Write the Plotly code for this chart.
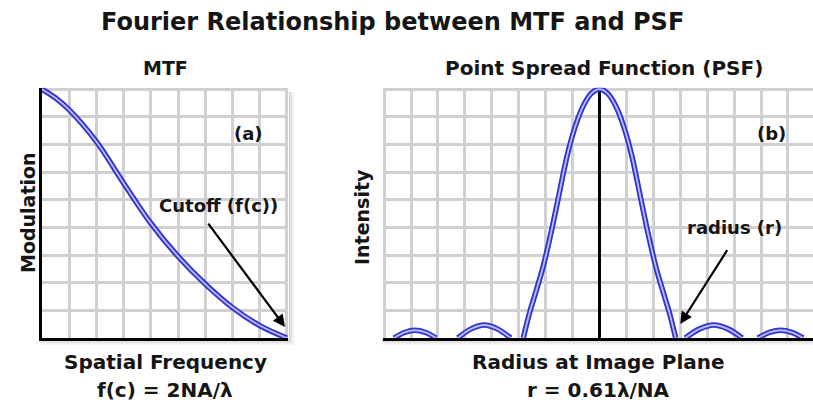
import plotly.graph_objects as go

W, H = 813, 411

# ---------------- data (grid units) ----------------
mtf_x = [0, 0.5, 1, 2, 3, 4, 5, 6, 7, 8, 9]
mtf_y = [9.0, 8.68, 8.25, 7.1, 5.6, 4.15, 2.95, 1.95, 1.1, 0.45, 0.0]

# PSF lobes (None separates the lobes, which meet the baseline between them)
psf_x = [-7.63, -7.24, -6.85, -6.46, -6.07, None,
         -5.26, -4.77, -4.28, -3.79, -3.3, None,
         -2.83, -2.6, -2.4, -2.1, -1.8, -1.5, -1.2, -0.9, -0.6, -0.3,
         0.0,
         0.3, 0.6, 0.9, 1.2, 1.5, 1.8, 2.1, 2.4, 2.6, 2.83, None,
         3.19, 3.72, 4.25, 4.77, 5.3, None,
         5.89, 6.31, 6.73, 7.14, 7.56]
psf_y = [0.0, 0.2, 0.28, 0.2, 0.0, None,
         0.0, 0.33, 0.47, 0.33, 0.0, None,
         0.0, 0.9, 1.55, 2.55, 3.8, 5.2, 6.6, 7.65, 8.4, 8.85,
         9.0,
         8.85, 8.4, 7.65, 6.6, 5.2, 3.8, 2.55, 1.55, 0.9, 0.0, None,
         0.0, 0.33, 0.47, 0.33, 0.0, None,
         0.0, 0.2, 0.28, 0.2, 0.0]

# tick/grid positions
grid_left = list(range(0, 10))
grid_right = list(range(-8, 8))

title_text = "Fourier Relationship between MTF and PSF"
left_title, right_title = "MTF", "Point Spread Function (PSF)"
left_ylabel, right_ylabel = "Modulation", "Intensity"
left_xlabel, left_formula = "Spatial Frequency", "f(c) = 2NA/λ"
right_xlabel, right_formula = "Radius at Image Plane", "r = 0.61λ/NA"

# ---------------- layout helpers ----------------
def px(x):
    return x / W

def py(y):
    return (H - y) / H

FONT = "DejaVu Sans"
TXT = "#151515"
OUTER = "#3434c8"
INNER = "#b4bcff"

fig = go.Figure()

# Left panel: MTF
for col, w in [(OUTER, 5.5), (INNER, 1.8)]:
    fig.add_trace(go.Scatter(x=mtf_x, y=mtf_y, mode="lines", xaxis="x", yaxis="y",
                             line=dict(color=col, width=w, shape="spline", smoothing=1.0),
                             hoverinfo="skip", showlegend=False))

# Right panel: centre line + PSF
valid = [v for v in psf_y if v is not None]
peak = max(valid)
peak_x = psf_x[psf_y.index(peak)]
fig.add_trace(go.Scatter(x=[peak_x, peak_x], y=[0, peak],
                         mode="lines", xaxis="x2", yaxis="y2",
                         line=dict(color="black", width=3),
                         hoverinfo="skip", showlegend=False))
for col, w in [(OUTER, 5.5), (INNER, 1.8)]:
    fig.add_trace(go.Scatter(x=psf_x, y=psf_y, mode="lines", xaxis="x2", yaxis="y2",
                             connectgaps=False,
                             line=dict(color=col, width=w, shape="spline", smoothing=0.9),
                             hoverinfo="skip", showlegend=False))

GRID = "#d0d0d0"
common = dict(showticklabels=False, ticks="", zeroline=False,
              showgrid=True, gridcolor=GRID, gridwidth=2.5, fixedrange=True)

YTOP = 87.8
fig.update_layout(
    width=W, height=H,
    margin=dict(l=0, r=0, t=0, b=0),
    paper_bgcolor="white", plot_bgcolor="white",
    showlegend=False,
    xaxis=dict(domain=[px(42), px(288)], range=[0, 9.04], tickmode="array",
               tickvals=grid_left, showline=True, linecolor="black", linewidth=3,
               **common),
    yaxis=dict(domain=[py(338), py(YTOP)], range=[0, 9.05], tickmode="array",
               tickvals=grid_left, showline=True, linecolor="black", linewidth=3,
               **common),
    xaxis2=dict(domain=[px(383), 1.0], range=[-8.04, 7.93], tickmode="array",
                tickvals=grid_right, showline=True, linecolor="black", linewidth=3,
                anchor="y2", **common),
    yaxis2=dict(domain=[py(338), py(YTOP)], range=[0, 9.05], tickmode="array",
                tickvals=grid_left, showline=False, anchor="x2", **common),
)

# soft panel shadows: strips just outside the right and bottom edges
def strip(x0, x1, y0, y1, a):
    fig.add_shape(type="rect", xref="paper", yref="paper", layer="below",
                  x0=px(x0), x1=px(x1), y0=py(y1), y1=py(y0),
                  line=dict(width=0), fillcolor=f"rgba(0,0,0,{a})")

for (x0, x1, has_right) in [(42, 288, True), (383, 813, False)]:
    for k, a in [(6, 0.05), (4, 0.06), (2, 0.08)]:
        strip(x0 - 1, x1 + (k if has_right else 0), 339, 339 + k, a)
        if has_right:
            strip(x1 + 1, x1 + k, 92, 339, a)

def text(x, y, s, size, angle=0):
    fig.add_annotation(x=px(x), y=py(y), xref="paper", yref="paper", text=s,
                       showarrow=False, textangle=angle,
                       font=dict(family=FONT, size=size, color=TXT, weight="bold"),
                       xanchor="center", yanchor="middle")

text(392, 22, title_text, 24)
text(165, 68, left_title, 19)
text(604, 68, right_title, 20)
text(28, 213, left_ylabel, 19, -90)
text(362, 217, right_ylabel, 19, -90)
text(165, 362, left_xlabel, 20)
text(165, 390, left_formula, 20)
text(598, 362, right_xlabel, 20)
text(598, 390, right_formula, 20)

# in-panel labels (data coords)
def dtext(x, y, s, xr, yr):
    fig.add_annotation(x=x, y=y, xref=xr, yref=yr, text=s, showarrow=False,
                       font=dict(family=FONT, size=18, color=TXT, weight="bold"),
                       xanchor="center", yanchor="middle")

dtext(7.6, 7.4, "(a)", "x", "y")
dtext(6.5, 4.8, "Cutoff (f(c))", "x", "y")
dtext(6.4, 7.4, "(b)", "x2", "y2")
dtext(5.0, 4.0, "radius (r)", "x2", "y2")

# arrows
fig.add_annotation(x=8.93, y=0.4, ax=6.07, ay=4.19, xref="x", yref="y",
                   axref="x", ayref="y", text="", showarrow=True,
                   arrowhead=2, arrowsize=1.1, arrowwidth=2.2, arrowcolor="black")
fig.add_annotation(x=3.0, y=0.51, ax=4.78, ay=3.23, xref="x2", yref="y2",
                   axref="x2", ayref="y2", text="", showarrow=True,
                   arrowhead=2, arrowsize=1.1, arrowwidth=2.2, arrowcolor="black")

fig.write_html("out.html")
